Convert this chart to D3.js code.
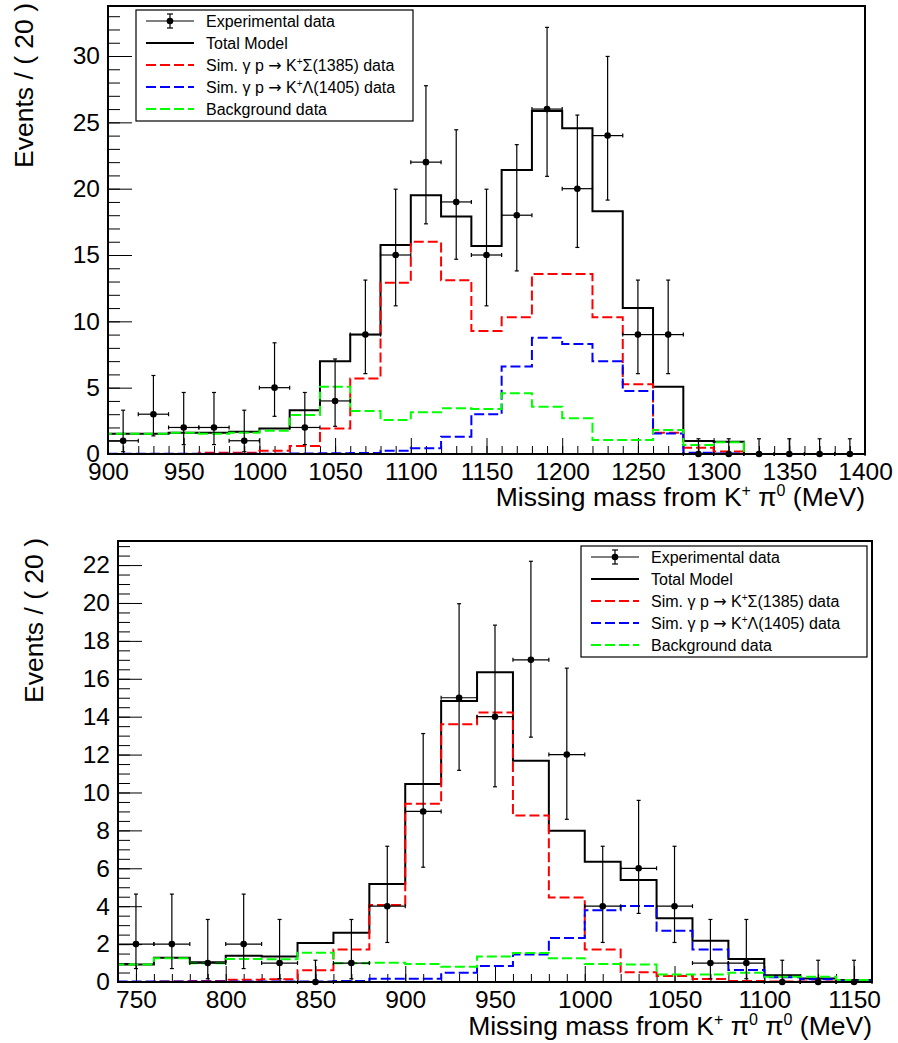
<!DOCTYPE html>
<html>
<head>
<meta charset="utf-8">
<script src="https://cdn.jsdelivr.net/npm/d3@7"></script>
<style>
  body { margin: 0; background: #fff; }
  svg { display: block; font-family: "Liberation Sans", Arial, Helvetica, sans-serif; }
</style>
</head>
<body>
<svg id="chart" width="898" height="1043"></svg>
<script>
'use strict';

// ---- top panel: missing mass from K+ pi0 ----
const top_mass = [910, 930, 950, 970, 990, 1010, 1030, 1050, 1070, 1090, 1110, 1130, 1150,
                  1170, 1190, 1210, 1230, 1250, 1270, 1290, 1310, 1330, 1350, 1370, 1390];
const top_data = [1, 3, 2, 2, 1, 5, 2, 4, 9, 15, 22, 19, 15, 18, 26, 20, 24, 9, 9, 0, 0, 0, 0, 0, 0];
const top_total = [1.53, 1.53, 1.6, 1.6, 1.68, 1.93, 3.3, 7.0, 9.0, 15.75, 19.5, 17.9, 15.67,
                   21.4, 25.85, 24.55, 18.3, 11.0, 5.07, 0.98, 0.93, 0, 0, 0, 0];
const top_sigma = [0, 0, 0, 0.1, 0.1, 0.25, 0.6, 1.93, 5.7, 12.9, 16.0, 13.1, 9.27,
                   10.3, 13.56, 13.56, 10.3, 5.25, 1.6, 0.48, 0.18, 0, 0, 0, 0];
const top_lambda = [0.02, 0.02, 0.02, 0.02, 0.02, 0.02, 0.03, 0.05, 0.08, 0.25, 0.43, 1.3, 3.0,
                    6.6, 8.77, 8.3, 7.0, 4.75, 1.55, 0.1, 0.03, 0, 0, 0, 0];
const top_bkg = [1.53, 1.53, 1.6, 1.53, 1.6, 1.76, 2.94, 5.07, 3.24, 2.56, 3.14, 3.44, 3.4,
                 4.57, 3.57, 2.69, 1.05, 1.05, 1.8, 0.68, 0.88, 0, 0, 0, 0];

// ---- bottom panel: missing mass from K+ pi0 pi0 ----
const bot_mass = [750, 770, 790, 810, 830, 850, 870, 890, 910, 930, 950, 970, 990,
                  1010, 1030, 1050, 1070, 1090, 1110, 1130, 1150];
const bot_data = [2, 2, 1, 2, 1, 0, 1, 4, 9, 15, 14, 17, 12, 4, 6, 4, 1, 1, 0, 0, 0];
const bot_total = [0.93, 1.28, 1.04, 1.39, 1.34, 2.06, 2.6, 5.17, 10.45, 14.83, 16.34, 11.68, 7.98,
                   6.35, 5.38, 3.36, 2.18, 1.21, 0.35, 0.19, 0.1];
const bot_sigma = [0, 0.03, 0.05, 0.12, 0.14, 0.62, 1.71, 4.06, 9.4, 13.6, 14.22, 8.78, 4.46,
                   1.72, 0.51, 0.32, 0.16, 0.05, 0.02, 0.02, 0.01];
const bot_lambda = [0.02, 0.02, 0.02, 0.02, 0.03, 0.03, 0.05, 0.17, 0.17, 0.49, 0.85, 1.45, 2.32,
                    3.78, 4.01, 2.71, 1.72, 0.63, 0.25, 0.14, 0.07];
const bot_bkg = [0.93, 1.25, 0.99, 1.22, 1.2, 1.55, 0.99, 1.02, 0.95, 0.81, 1.34, 1.53, 1.25,
                 0.95, 0.93, 0.4, 0.4, 0.49, 0.28, 0.28, 0.1];

// Poisson 68% interval bounds for n = 0..26 counts (as drawn by RooFit)
const poisson_lo = [0, 0.173, 0.708, 1.367, 2.086, 2.840, 3.620, 4.419, 5.232, 6.057, 6.891,
                    7.734, 8.585, 9.441, 10.30, 11.17, 12.04, 12.92, 13.80, 14.68, 15.57,
                    16.45, 17.35, 18.24, 19.14, 20.03, 20.93];
const poisson_hi = [1.148, 3.300, 4.638, 5.918, 7.163, 8.382, 9.584, 10.77, 11.95, 13.11, 14.27,
                    15.42, 16.56, 17.70, 18.83, 19.96, 21.08, 22.20, 23.32, 24.44, 25.55,
                    26.66, 27.76, 28.87, 29.97, 31.07, 32.16];

const bin_width = 20;

const colors = {
  total: '#000000',
  sigma: '#ff0000',
  lambda: '#0000ff',
  bkg: '#00ff00'
};

const svg = d3.select('#chart');

// parts: [text, kind] with kind '' (normal), 'sup' or 'sym' (symbol font)
function rich_text(sel, parts, sup_size, shift) {
  let pending = 0;
  for (const [t, kind] of parts) {
    const ts = sel.append('tspan').text(t);
    if (kind === 'sup') {
      ts.attr('font-size', sup_size).attr('dy', -shift - pending);
      pending = shift;
    } else {
      if (pending) ts.attr('dy', pending);
      pending = 0;
      if (kind === 'sym') ts.attr('font-family', '"DejaVu Sans", sans-serif');
    }
  }
}

function draw_panel(p) {
  const x = d3.scaleLinear().domain(p.xdomain).range([p.left, p.right]);
  const y = d3.scaleLinear().domain(p.ydomain).range([p.bottom, p.top]);
  const g = svg.append('g');

  // minor ticks
  g.append('g')
    .attr('transform', `translate(${p.left},0)`)
    .call(d3.axisLeft(y).tickValues(p.yminor).tickSize(-12).tickFormat(''))
    .call(a => a.select('.domain').remove());
  g.append('g')
    .attr('transform', `translate(0,${p.bottom})`)
    .call(d3.axisBottom(x).tickValues(p.xminor).tickSize(-8).tickFormat(''))
    .call(a => a.select('.domain').remove());

  // major ticks + labels
  const yax = g.append('g')
    .attr('transform', `translate(${p.left},0)`)
    .call(d3.axisLeft(y).tickValues(p.ymajor).tickSize(-24).tickPadding(8).tickFormat(d3.format('d')));
  yax.select('.domain').remove();
  const xax = g.append('g')
    .attr('transform', `translate(0,${p.bottom})`)
    .call(d3.axisBottom(x).tickValues(p.xmajor).tickSize(-16).tickPadding(9).tickFormat(d3.format('d')));
  xax.select('.domain').remove();
  for (const ax of [yax, xax]) {
    ax.attr('font-family', null).attr('font-size', 24.5);
    ax.selectAll('text').attr('fill', '#000');
    ax.selectAll('line').attr('stroke', '#000').attr('stroke-width', 1);
  }

  // histogram curves
  const step = (vals) => {
    const pts = [[p.mass[0] - bin_width / 2, 0]];
    p.mass.forEach((m, i) => {
      pts.push([m - bin_width / 2, vals[i]]);
      pts.push([m + bin_width / 2, vals[i]]);
    });
    pts.push([p.mass[p.mass.length - 1] + bin_width / 2, 0]);
    return d3.line().x(d => x(d[0])).y(d => y(d[1]))(pts);
  };

  const series = [
    { vals: p.total, color: colors.total, dash: null },
    { vals: p.sigma, color: colors.sigma, dash: '10,4' },
    { vals: p.lambda, color: colors.lambda, dash: '10,4' },
    { vals: p.bkg, color: colors.bkg, dash: '10,4' }
  ];
  for (const s of series) {
    g.append('path')
      .attr('d', step(s.vals))
      .attr('fill', 'none')
      .attr('stroke', s.color)
      .attr('stroke-width', 2)
      .attr('stroke-dasharray', s.dash);
  }

  // data points with Poisson error bars
  const pts = g.append('g').selectAll('g')
    .data(p.mass.map((m, i) => ({ m, n: p.data[i] })))
    .join('g');
  pts.append('line')
    .attr('x1', d => x(d.m - bin_width / 2)).attr('x2', d => x(d.m + bin_width / 2))
    .attr('y1', d => y(d.n)).attr('y2', d => y(d.n));
  pts.append('line')
    .attr('x1', d => x(d.m)).attr('x2', d => x(d.m))
    .attr('y1', d => y(poisson_lo[d.n])).attr('y2', d => y(poisson_hi[d.n]));
  // small end marks
  for (const side of [-1, 1]) {
    pts.append('line')
      .attr('x1', d => x(d.m + side * bin_width / 2)).attr('x2', d => x(d.m + side * bin_width / 2))
      .attr('y1', d => y(d.n) - 2).attr('y2', d => y(d.n) + 2);
  }
  pts.append('line')
    .attr('x1', d => x(d.m) - 2).attr('x2', d => x(d.m) + 2)
    .attr('y1', d => y(poisson_hi[d.n])).attr('y2', d => y(poisson_hi[d.n]));
  pts.append('line')
    .attr('x1', d => x(d.m) - 2).attr('x2', d => x(d.m) + 2)
    .attr('y1', d => y(poisson_lo[d.n])).attr('y2', d => y(poisson_lo[d.n]));
  pts.selectAll('line').attr('stroke', '#000').attr('stroke-width', 1.2);
  pts.append('circle')
    .attr('cx', d => x(d.m)).attr('cy', d => y(d.n)).attr('r', 3.3)
    .attr('fill', '#000');

  // frame
  g.append('rect')
    .attr('x', p.left).attr('y', p.top)
    .attr('width', p.right - p.left).attr('height', p.bottom - p.top)
    .attr('fill', 'none').attr('stroke', '#000').attr('stroke-width', 2);

  // axis titles
  g.append('text')
    .attr('transform', `translate(${p.ytitle_x},${p.top - 3}) rotate(-90)`)
    .attr('text-anchor', 'end')
    .attr('font-size', 26.5)
    .text('Events / ( 20 )');
  const xt = g.append('text')
    .attr('x', p.right).attr('y', p.xtitle_y)
    .attr('text-anchor', 'end')
    .attr('font-size', 26.5);
  rich_text(xt, p.xtitle, 16, 10);

  // legend
  const L = p.legend;
  const lg = g.append('g');
  lg.append('rect')
    .attr('x', L.x).attr('y', L.y).attr('width', L.w).attr('height', L.h)
    .attr('fill', '#fff').attr('stroke', '#000').attr('stroke-width', 1.2);
  const entries = [
    { parts: [['Experimental data', '']], kind: 'data' },
    { parts: [['Total Model', '']], color: colors.total, dash: null },
    { parts: [['Sim. γ p ', ''], ['→', 'sym'], [' K', ''], ['+', 'sup'], ['Σ(1385) data', '']],
      color: colors.sigma, dash: '10,4' },
    { parts: [['Sim. γ p ', ''], ['→', 'sym'], [' K', ''], ['+', 'sup'], ['Λ(1405) data', '']],
      color: colors.lambda, dash: '10,4' },
    { parts: [['Background data', '']], color: colors.bkg, dash: '10,4' }
  ];
  const sx0 = L.x + 10, sx1 = L.x + 58, tx = L.x + 70;
  entries.forEach((e, i) => {
    const cy = L.y + 11 + i * 22;
    if (e.kind === 'data') {
      const mx = (sx0 + sx1) / 2;
      const dl = lg.append('g').attr('stroke', '#000').attr('stroke-width', 1.2);
      dl.append('line').attr('x1', sx0).attr('x2', sx1).attr('y1', cy).attr('y2', cy);
      dl.append('line').attr('x1', mx).attr('x2', mx).attr('y1', cy - 7).attr('y2', cy + 7);
      dl.append('line').attr('x1', mx - 3).attr('x2', mx + 3).attr('y1', cy - 7).attr('y2', cy - 7);
      dl.append('line').attr('x1', mx - 3).attr('x2', mx + 3).attr('y1', cy + 7).attr('y2', cy + 7);
      lg.append('circle').attr('cx', mx).attr('cy', cy).attr('r', 3.3).attr('fill', '#000');
    } else {
      lg.append('line').attr('x1', sx0).attr('x2', sx1).attr('y1', cy).attr('y2', cy)
        .attr('stroke', e.color).attr('stroke-width', 2).attr('stroke-dasharray', e.dash);
    }
    const t = lg.append('text').attr('x', tx).attr('y', cy + 6).attr('font-size', 16);
    rich_text(t, e.parts, 10, 6);
  });
}

draw_panel({
  left: 108, right: 865, top: 6, bottom: 454,
  xdomain: [900, 1400], ydomain: [0, 33.77],
  xmajor: d3.range(900, 1401, 50), xminor: d3.range(900, 1401, 10),
  ymajor: d3.range(0, 31, 5), yminor: d3.range(0, 34, 1),
  mass: top_mass, data: top_data, total: top_total, sigma: top_sigma, lambda: top_lambda, bkg: top_bkg,
  ytitle_x: 33, xtitle_y: 506,
  xtitle: [['Missing mass from K', ''], ['+', 'sup'], [' π', ''], ['0', 'sup'], [' (MeV)', '']],
  legend: { x: 136, y: 10, w: 277, h: 111 }
});

draw_panel({
  left: 118, right: 872, top: 541, bottom: 982,
  xdomain: [740, 1160], ydomain: [0, 23.27],
  xmajor: d3.range(750, 1151, 50), xminor: d3.range(740, 1161, 10),
  ymajor: d3.range(0, 23, 2), yminor: d3.range(0, 23.3, 0.5),
  mass: bot_mass, data: bot_data, total: bot_total, sigma: bot_sigma, lambda: bot_lambda, bkg: bot_bkg,
  ytitle_x: 43, xtitle_y: 1035,
  xtitle: [['Missing mass from K', ''], ['+', 'sup'], [' π', ''], ['0', 'sup'], [' π', ''], ['0', 'sup'], [' (MeV)', '']],
  legend: { x: 581, y: 546, w: 286, h: 111 }
});
</script>
</body>
</html>
